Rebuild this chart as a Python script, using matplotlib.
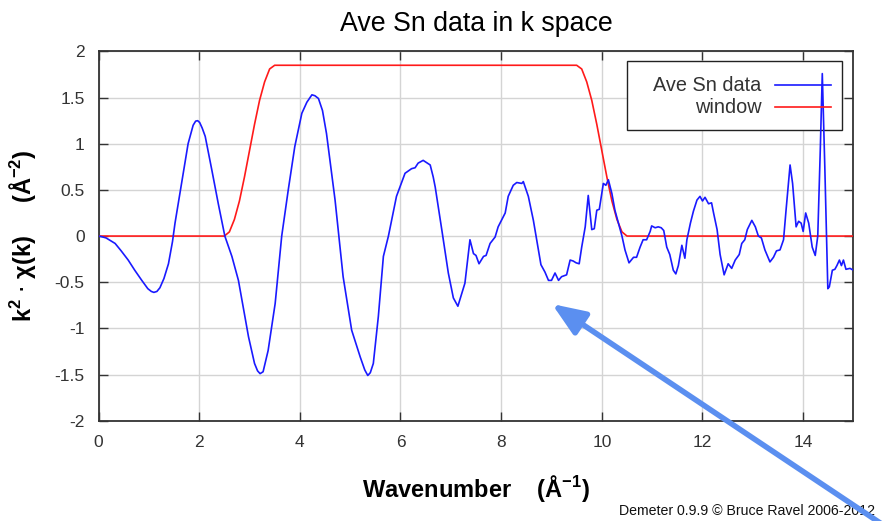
import matplotlib
matplotlib.use("Agg")
import matplotlib.pyplot as plt
from matplotlib.patches import Rectangle, FancyArrowPatch
from matplotlib.lines import Line2D

plt.rcParams['font.family'] = ['Liberation Sans', 'DejaVu Sans']

# --- data ---
k_data = [0, 0.05, 0.15, 0.33, 0.45, 0.59, 0.72, 0.86, 0.98, 1.05, 1.10, 1.16, 1.22, 1.30, 1.39, 1.47,
          1.52, 1.65, 1.78, 1.88, 1.93, 1.97, 2.01, 2.06, 2.12, 2.25, 2.38, 2.51, 2.65, 2.78, 2.98,
          3.10, 3.16, 3.21, 3.27, 3.37, 3.51, 3.64, 3.77, 3.90, 4.04, 4.14, 4.24, 4.30, 4.37, 4.45,
          4.53, 4.70, 4.86, 5.03, 5.20, 5.29, 5.35, 5.40, 5.46, 5.56, 5.66, 5.76, 5.92, 6.09, 6.22,
          6.29, 6.35, 6.45, 6.59, 6.65, 6.69, 6.82, 6.95, 7.05, 7.14, 7.28, 7.38, 7.45, 7.50, 7.56,
          7.65, 7.70, 7.78, 7.88, 7.94, 8.08, 8.14, 8.24, 8.31, 8.41, 8.44, 8.54, 8.64, 8.74, 8.79,
          8.87, 8.94, 9.00, 9.07, 9.14, 9.20, 9.30, 9.37, 9.43, 9.49, 9.55, 9.60, 9.67, 9.73, 9.80,
          9.85, 9.90, 9.95, 10.03, 10.08, 10.13, 10.20, 10.26, 10.33, 10.40, 10.46, 10.54, 10.63,
          10.69, 10.76, 10.82, 10.89, 10.96, 10.99, 11.06, 11.12, 11.18, 11.23, 11.29, 11.35, 11.42,
          11.47, 11.52, 11.59, 11.65, 11.69, 11.76, 11.82, 11.89, 11.95, 12.00, 12.05, 12.12, 12.18,
          12.22, 12.29, 12.35, 12.43, 12.51, 12.58, 12.65, 12.73, 12.78, 12.84, 12.89, 12.98, 13.05,
          13.11, 13.17, 13.24, 13.34, 13.41, 13.47, 13.54, 13.61, 13.66, 13.74, 13.79, 13.86, 13.91,
          13.96, 14.00, 14.05, 14.11, 14.18, 14.24, 14.29, 14.34, 14.38, 14.43, 14.49, 14.52, 14.58,
          14.63, 14.67, 14.72, 14.76, 14.80, 14.85, 14.93, 15.00]
chi_data = [0, -0.005, -0.02, -0.08, -0.16, -0.26, -0.37, -0.48, -0.57, -0.60, -0.61, -0.60, -0.56,
            -0.46, -0.30, -0.06, 0.14, 0.57, 1.0, 1.20, 1.245, 1.25, 1.23, 1.17, 1.08, 0.72, 0.35,
            0.0, -0.22, -0.48, -1.09, -1.38, -1.46, -1.49, -1.47, -1.24, -0.73, 0.0, 0.50, 0.97,
            1.33, 1.45, 1.53, 1.52, 1.49, 1.36, 1.11, 0.39, -0.44, -1.02, -1.31, -1.45, -1.51,
            -1.48, -1.38, -0.87, -0.22, 0.0, 0.43, 0.68, 0.73, 0.74, 0.79, 0.82, 0.77, 0.64, 0.53,
            0.07, -0.40, -0.67, -0.76, -0.51, -0.04, -0.19, -0.21, -0.30, -0.22, -0.21, -0.08,
            -0.01, 0.10, 0.25, 0.43, 0.55, 0.58, 0.57, 0.59, 0.43, 0.17, -0.15, -0.31, -0.39,
            -0.48, -0.48, -0.40, -0.48, -0.44, -0.42, -0.26, -0.27, -0.29, -0.30, -0.12, 0.10,
            0.44, 0.07, 0.08, 0.28, 0.29, 0.57, 0.55, 0.61, 0.46, 0.28, 0.14, 0.0, -0.15, -0.29,
            -0.23, -0.23, -0.12, -0.04, -0.04, 0.05, 0.11, 0.09, 0.10, 0.09, 0.06, -0.12, -0.20,
            -0.37, -0.41, -0.32, -0.10, -0.24, -0.04, 0.14, 0.27, 0.39, 0.43, 0.38, 0.42, 0.35,
            0.36, 0.25, 0.07, -0.20, -0.42, -0.30, -0.35, -0.26, -0.20, -0.08, -0.04, 0.07, 0.17,
            0.10, 0.0, -0.02, -0.15, -0.28, -0.23, -0.16, -0.15, -0.04, 0.28, 0.77, 0.57, 0.10,
            0.16, 0.14, 0.05, 0.25, 0.14, -0.12, -0.21, 0.0, 0.93, 1.76, 0.75, -0.57, -0.55,
            -0.37, -0.36, -0.32, -0.26, -0.32, -0.26, -0.36, -0.35, -0.37]

win_k = [0, 2.5, 2.6, 2.7, 2.8, 2.9, 3.0, 3.1, 3.2, 3.3, 3.4, 3.5,
         9.5, 9.6, 9.7, 9.8, 9.9, 10.0, 10.1, 10.2, 10.3, 10.4, 10.5, 15]
win_val = [0, 0, 0.045, 0.18, 0.38, 0.64, 0.925, 1.21, 1.47, 1.67, 1.81, 1.85,
           1.85, 1.81, 1.67, 1.47, 1.21, 0.925, 0.64, 0.38, 0.18, 0.045, 0, 0]

x_ticks = [0, 2, 4, 6, 8, 10, 12, 14]
y_ticks = [-2, -1.5, -1, -0.5, 0, 0.5, 1, 1.5, 2]
y_ticklabels = ['-2', '-1.5', '-1', '-0.5', '0', '0.5', '1', '1.5', '2']

fig = plt.figure(figsize=(8.85, 5.21), dpi=100)
ax = fig.add_axes([0.1113, 0.1925, 0.8531, 0.7088])

ax.plot(k_data, chi_data, color='#1a1aff', lw=1.2, zorder=4)
ax.plot(win_k, win_val, color='#ff1a1a', lw=1.2, zorder=3)

ax.set_xlim(0, 15)
ax.set_ylim(-2, 2)
ax.set_xticks(x_ticks)
ax.set_yticks(y_ticks)
ax.set_yticklabels(y_ticklabels)
ax.grid(True, color='#d4d4d4', lw=1.0)
ax.set_axisbelow(True)
ax.tick_params(direction='in', length=6.5, width=1.0, color='#333333',
               top=True, right=True, labelsize=12.5, labelcolor='#333333', pad=10)
for s in ax.spines.values():
    s.set_color('#333333')
    s.set_linewidth(1.3)

ax.set_title('Ave Sn data in k space', fontsize=19.3, pad=15)
ax.set_xlabel(r'Wavenumber    ($\mathregular{\AA^{-1}}$)', fontsize=17, fontweight='bold', labelpad=17)
ax.set_ylabel(r'k$\mathregular{^2}$ $\cdot$ $\mathregular{\chi}$(k)     ($\mathregular{\AA^{-2}}$)',
              fontsize=17, fontweight='bold', labelpad=12)

# legend box, drawn by hand so the text can be right-aligned like gnuplot
ax.add_patch(Rectangle((0.6996, 0.787), 0.2848, 0.187, transform=ax.transAxes,
                       facecolor='white', edgecolor='#222222', lw=1.0, zorder=3.5))
ax.text(0.878, 0.909, 'Ave Sn data', transform=ax.transAxes, ha='right', va='center',
        fontsize=14.3, color='#333333', zorder=6)
ax.text(0.878, 0.849, 'window', transform=ax.transAxes, ha='right', va='center',
        fontsize=14.3, color='#333333', zorder=6)
ax.add_line(Line2D([0.896, 0.970], [0.909, 0.909], transform=ax.transAxes, color='#1a1aff', lw=1.2, zorder=6))
ax.add_line(Line2D([0.896, 0.970], [0.849, 0.849], transform=ax.transAxes, color='#ff1a1a', lw=1.2, zorder=6))

fig.text(619 / 885, 1 - 511 / 521, 'Demeter 0.9.9 \u00a9 Bruce Ravel 2006-2012', fontsize=10.2,
         va='center', ha='left', color='#111111')

# blue pointer arrow
fig.add_artist(FancyArrowPatch((1.0, -0.01), (552 / 885, 1 - 304 / 521), transform=fig.transFigure,
                               arrowstyle='-|>,head_length=20,head_width=8', color='#5b8ff0',
                               lw=4, mutation_scale=1, zorder=10, shrinkA=0, shrinkB=0))

fig.savefig('out.png', dpi=100)
